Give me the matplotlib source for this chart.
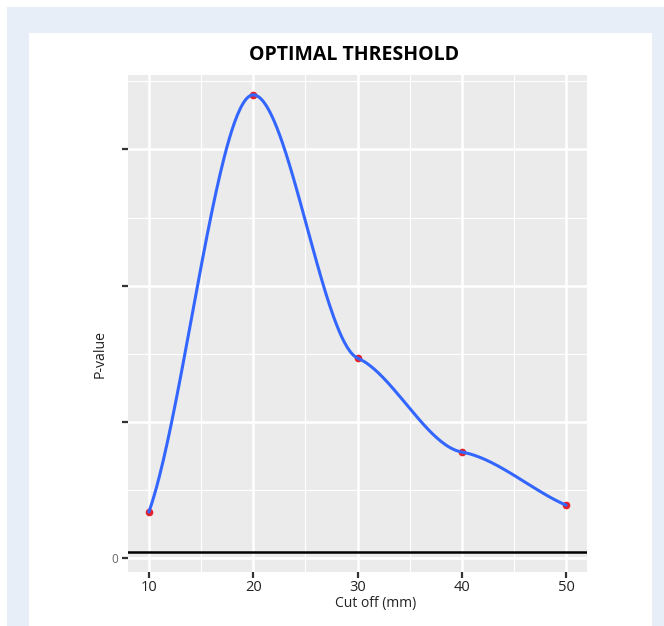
import matplotlib
matplotlib.use('Agg')
import matplotlib.pyplot as plt
from matplotlib.patches import Rectangle
import numpy as np

# values
cutoff = [10, 20, 30, 40, 50]
pvalue = [0.34, 3.40, 1.47, 0.78, 0.39]
x_ticks = [10, 20, 30, 40, 50]
y_ticks = [0, 1, 2, 3]
y_ticklabels = ['0', '', '', '']
baseline = 0.05


def smooth_curve(x, y, tension=0.25, n=80):
    # piecewise cubic hermite through the points, flat at local extrema
    x = np.asarray(x, float)
    y = np.asarray(y, float)
    sec = np.diff(y) / np.diff(x)
    d = np.zeros_like(y)
    for i in range(1, len(x) - 1):
        if sec[i - 1] * sec[i] > 0:
            d[i] = tension * (y[i + 1] - y[i - 1]) / (x[i + 1] - x[i - 1])
    d[0] = 0.7 * sec[0]
    d[-1] = 0.85 * sec[-1]
    xs, ys = [], []
    t = np.linspace(0, 1, n)
    for i in range(len(x) - 1):
        h = x[i + 1] - x[i]
        h00 = 2 * t**3 - 3 * t**2 + 1
        h10 = t**3 - 2 * t**2 + t
        h01 = -2 * t**3 + 3 * t**2
        h11 = t**3 - t**2
        xs.append(x[i] + t * h)
        ys.append(h00 * y[i] + h10 * h * d[i] + h01 * y[i + 1] + h11 * h * d[i + 1])
    return np.concatenate(xs), np.concatenate(ys)


W, H = 664, 626
fig = plt.figure(figsize=(W / 100, H / 100), dpi=100, facecolor='white')
fig.patches.append(Rectangle((7 / W, 0), 1, 1 - 7 / H, transform=fig.transFigure,
                             facecolor='#e7eef8', edgecolor='none', zorder=-2))
fig.patches.append(Rectangle((29 / W, 0), (652 - 29) / W, 1 - 33 / H, transform=fig.transFigure,
                             facecolor='white', edgecolor='none', zorder=-1))

ax = fig.add_axes([128 / W, 1 - 572 / H, (587 - 128) / W, (572 - 75) / H])
ax.set_zorder(2)
ax.set_facecolor('#ebebeb')
for s in ax.spines.values():
    s.set_visible(False)

ax.set_xlim(8, 52)
ax.set_ylim(-0.10, 3.546)
ax.set_xticks(x_ticks)
ax.set_xticklabels([str(v) for v in x_ticks], fontsize=10.5, color='#222222', family='Open Sans')
ax.set_yticks(y_ticks)
ax.set_yticklabels(y_ticklabels, fontsize=8.5, color='#666666', family='Open Sans')
ax.set_xticks([15, 25, 35, 45], minor=True)
ax.set_yticks([0.5, 1.5, 2.5, 3.5], minor=True)
ax.tick_params(axis='both', which='major', length=4, width=1.6, color='#333333')
ax.tick_params(axis='x', pad=1.5)
ax.tick_params(axis='y', pad=3)
ax.tick_params(which='minor', length=0)
ax.grid(True, which='major', color='white', linewidth=1.8)
ax.grid(True, which='minor', color='white', linewidth=0.8)
ax.set_axisbelow(True)

ax.axhline(baseline, color='black', linewidth=1.8, zorder=2)
ax.plot(cutoff, pvalue, 'o', color='#e3212b', markersize=4.5, zorder=3)
cx, cy = smooth_curve(cutoff, pvalue)
ax.plot(cx, cy, color='#3366ff', linewidth=2.2, zorder=4, solid_capstyle='round')

fig.text(354 / W, 1 - 55 / H, 'OPTIMAL THRESHOLD', ha='center', va='center',
         fontsize=14, fontweight='bold', family='Open Sans', color='black')
fig.text(376 / W, 1 - 603 / H, 'Cut off (mm)', ha='center', va='center',
         fontsize=10, family='Open Sans', color='#222222')
fig.text(100 / W, 1 - 354 / H, 'P-value', ha='center', va='center', rotation=90,
         fontsize=10.2, family='Open Sans', color='#222222')

fig.savefig('out.png', dpi=100, facecolor=fig.get_facecolor())
